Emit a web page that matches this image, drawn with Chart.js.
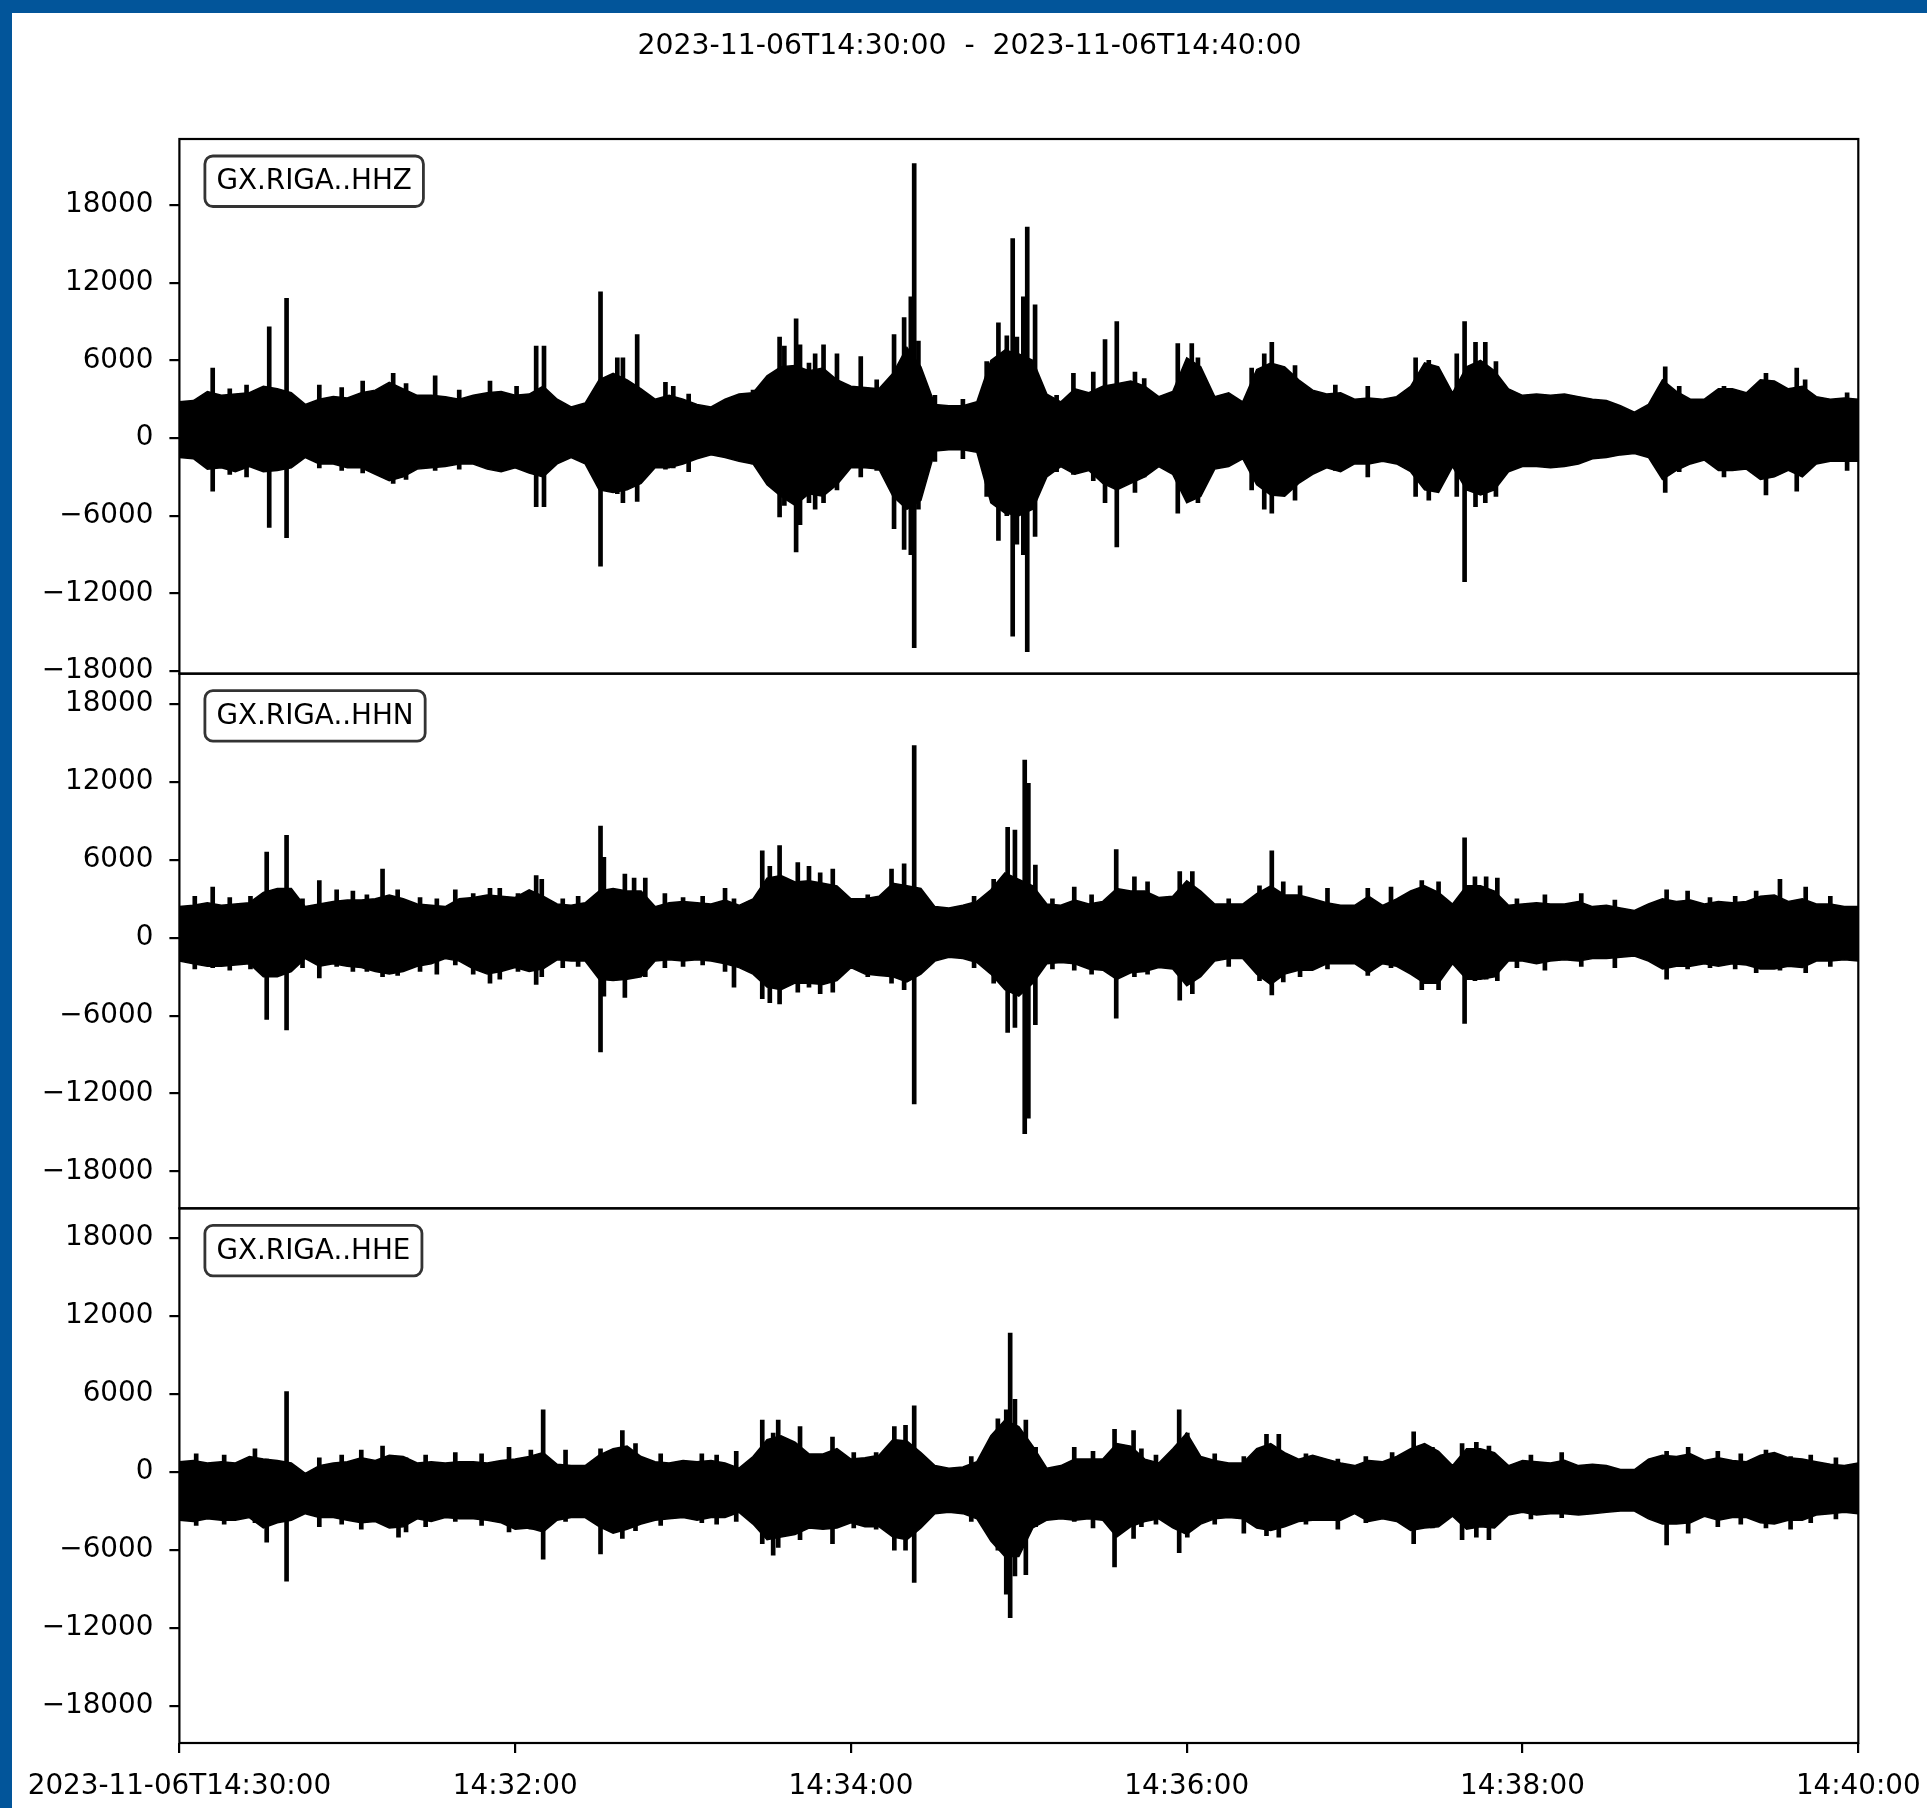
<!DOCTYPE html>
<html>
<head>
<meta charset="utf-8">
<title>GX.RIGA seismogram</title>
<script src="https://cdn.jsdelivr.net/npm/chart.js@4.4.1/dist/chart.umd.min.js"></script>
<style>
  html, body { margin: 0; padding: 0; background: #02559a; overflow: hidden; }
  #frame { position: absolute; left: 12px; top: 13px; width: 1915px; height: 1795px; background: #fff; }
  canvas { display: block; }
</style>
</head>
<body>
<div id="frame"><canvas id="seis" width="1915" height="1795"></canvas></div>
<script>
// Window 2023-11-06T14:30:00 - 14:40:00, x in seconds from start, y in counts
const plotTitle = '2023-11-06T14:30:00  -  2023-11-06T14:40:00';
const channels = ['GX.RIGA..HHZ', 'GX.RIGA..HHN', 'GX.RIGA..HHE'];
const tickSeconds = [0, 120, 240, 360, 480, 600];
const tickLabels = ['2023-11-06T14:30:00', '14:32:00', '14:34:00', '14:36:00', '14:38:00', '14:40:00'];
const yTicks = [-18000, -12000, -6000, 0, 6000, 12000, 18000];
const yLimits = [[-18200, 23100], [-20850, 20350], [-20850, 20300]];
const envStep = 5; // seconds between envelope samples

// HHZ: band envelope every 5 s
const hhzTop = [
  2800, 2900, 3600, 3300, 3400, 3500, 4000, 3800, 3500, 2600, 3000, 3200,
  3100, 3500, 3700, 4300, 3800, 3300, 3300, 3200, 3000, 3300, 3500, 3600,
  3300, 3400, 4000, 3000, 2400, 2700, 4500, 5000, 4500, 3800, 3000, 3300,
  3000, 2600, 2400, 3000, 3400, 3500, 4800, 5500, 5600, 5200, 5400, 4500,
  4000, 3900, 3800, 5000, 7000, 5500, 2600, 2500, 2500, 2800, 6000, 6800,
  6500, 6000, 3400, 2800, 3800, 3500, 4000, 4200, 4400, 4000, 3200, 3600,
  6200, 5500, 3200, 3500, 2800, 5300, 5800, 5500, 4500, 3700, 3400, 3500,
  3000, 3100, 3000, 3200, 4000, 5800, 5500, 3500, 5500, 6000, 5200, 3800,
  3300, 3400, 3300, 3400, 3200, 3000, 2900, 2500, 2000, 2600, 4500, 3600,
  3000, 3000, 3800, 3800, 3500, 4500, 4400, 3800, 4000, 3200, 3000, 3100,
  3000
];
const hhzBottom = [
  -1500, -1600, -2400, -2300, -2600, -2200, -2600, -2500, -2300, -1500, -2000, -2000,
  -2300, -2300, -2800, -3300, -3000, -2400, -2300, -2200, -2000, -2000, -2400, -2600,
  -2300, -2700, -3000, -2000, -1500, -2000, -4000, -4200, -4000, -3500, -2300, -2300,
  -2000, -1600, -1300, -1500, -1800, -2000, -3600, -4500, -5200, -4300, -4500, -3600,
  -2300, -2300, -2400, -4500, -5500, -4800, -1000, -900, -900, -1100, -5000, -5800,
  -6000, -5500, -3000, -2200, -2800, -2500, -3500, -4000, -3500, -3000, -2200, -2800,
  -5000, -4500, -2400, -2200, -1600, -3600, -4400, -4500, -3500, -2800, -2300, -2600,
  -2000, -2000, -1800, -2000, -2600, -4000, -4200, -2200, -4000, -4400, -4000, -2600,
  -2200, -2200, -2300, -2200, -2000, -1600, -1500, -1300, -1200, -1500, -3200, -2500,
  -2000, -1700, -2500, -2500, -2400, -3200, -3000, -2500, -3000, -2000, -1800, -1800,
  -1800
];
// HHZ: isolated peaks (time s, max, min)
const hhzSpikeT = [
  11.9, 18, 24, 32.1, 38.3, 50, 58, 65.5, 76.4, 81, 91.4, 100, 111, 120.5, 127.5, 130.3,
  150.5, 156.5, 158.5, 163.6, 173.7, 176.5, 182, 205, 214.5, 216.2, 220.4, 221.8, 225, 227.2,
  230.2, 235, 243.5, 249.2, 255.4, 259, 261.4, 262.6, 264.1, 270, 280, 288.5, 292.7, 295.7,
  297.8, 299.3, 301.6, 303, 305.8, 313.5, 319.5, 326.6, 330.8, 335, 341.5, 344.8, 356.8,
  361.8, 364, 383.2, 387.7, 390.4, 398.7, 413.1, 424.7, 441.8, 446.5, 456.5, 459.3, 463.2,
  466.7, 470.5, 531, 536, 552, 567, 578, 581, 596
];
const hhzSpikeHi = [
  5400, 3800, 4100, 8600, 10800, 4100, 3900, 4400, 5000, 4200, 4800, 3700, 4400, 4000, 7100, 7100,
  11300, 6200, 6200, 8000, 4300, 4000, 3400, 3700, 7800, 7100, 9200, 7200, 5800, 6500,
  7200, 6500, 6300, 4500, 8000, 9300, 10900, 21200, 7500, 3300, 3000, 5900, 8900, 7900,
  15400, 7800, 10900, 16300, 10300, 3300, 5000, 5100, 7600, 9000, 5100, 4600, 7300,
  7300, 6200, 5400, 6500, 7400, 5600, 4100, 4000, 6200, 6000, 6500, 9000, 7400,
  7400, 5900, 5500, 4000, 4000, 5000, 5400, 4500, 3500
];
const hhzSpikeLo = [
  -4100, -2800, -3000, -6900, -7700, -2300, -2500, -2700, -3500, -3200, -2500, -2400, -2000, -2300, -5300, -5300,
  -9900, -4300, -5000, -4900, -2400, -2300, -2600, -2000, -6100, -5200, -8800, -6700, -5000, -5500,
  -5000, -4000, -3000, -2500, -7000, -8600, -9000, -16200, -5500, -1800, -1600, -4500, -7900, -6000,
  -15300, -8200, -9000, -16500, -7600, -2600, -2800, -3300, -5000, -8400, -4200, -3000, -5800,
  -4500, -5000, -4000, -5500, -5800, -4800, -2500, -3000, -4500, -4800, -4500, -11100, -5300,
  -5000, -4500, -4200, -2600, -3000, -4400, -4100, -2500, -2500
];

// HHN
const hhnTop = [
  2400, 2500, 2700, 2500, 2600, 2700, 3500, 3800, 3800, 2400, 2600, 2800,
  2900, 2900, 3000, 3300, 3000, 2600, 2500, 2400, 3000, 3100, 3300, 3200,
  3100, 3700, 3200, 2600, 2500, 2700, 3600, 3800, 3600, 3600, 2400, 2700,
  2800, 2700, 2600, 2900, 2500, 3000, 4600, 4800, 4300, 4400, 4200, 4000,
  3000, 3000, 3200, 4200, 4000, 3800, 2400, 2300, 2500, 2800, 3700, 5000,
  4500, 4000, 2600, 2500, 2900, 2600, 2800, 3800, 3600, 3600, 3100, 3200,
  4400, 3600, 2600, 2600, 2600, 3400, 4000, 3300, 3300, 3000, 2700, 2500,
  2500, 3200, 2500, 3000, 3600, 4000, 3500, 2600, 4000, 4000, 3600, 2500,
  2600, 2700, 2600, 2600, 2800, 2400, 2500, 2300, 2100, 2600, 3000, 2800,
  2900, 2600, 2800, 2700, 2800, 3200, 3300, 2800, 3000, 2600, 2600, 2400,
  2400
];
const hhnBottom = [
  -1800, -2000, -2200, -2200, -2100, -2000, -3000, -3000, -2600, -1600, -2200, -2000,
  -2200, -2300, -2600, -2800, -2600, -2200, -2000, -1600, -1800, -2400, -2800, -2600,
  -2300, -2600, -2400, -1700, -1800, -1800, -3200, -3300, -3200, -3000, -1800, -1700,
  -1800, -1700, -1800, -2000, -2300, -2800, -3800, -4000, -3500, -3500, -3600, -3300,
  -2300, -2800, -2900, -3000, -3400, -2800, -1800, -1500, -1600, -1900, -2800, -4000,
  -4500, -3500, -2000, -1900, -2000, -2400, -2500, -3200, -2700, -2600, -2300, -2400,
  -3700, -3000, -1800, -1600, -1600, -2800, -3600, -2800, -2500, -2500, -2000, -2000,
  -2000, -2700, -2000, -2200, -2800, -3500, -3500, -2000, -3200, -3200, -3000, -1800,
  -1800, -2000, -1800, -1700, -1800, -1600, -1600, -1500, -1400, -1800, -2400, -2200,
  -2200, -2000, -2200, -2000, -2100, -2400, -2400, -2200, -2300, -1800, -1800, -1700,
  -1800
];
const hhnSpikeT = [
  5.5, 11.9, 18, 25.4, 31.2, 38.3, 44, 50, 56.2, 62, 67, 72.6, 78, 86, 92, 98.6, 105,
  111, 114.5, 121, 127.5, 129.5, 137, 142.5, 150.5, 151.7, 159.2, 162.5, 166.5, 173.5,
  180, 187, 195, 198.2, 208.3, 211, 214.5, 221, 225, 229, 233.5, 246, 254.5, 259, 262.6,
  284, 291, 296, 298.6, 302.1, 303.4, 305.9, 312, 319.8, 326, 334.8, 341.3, 346, 357.5,
  362, 375, 386, 390.4, 394.5, 400.5, 410.3, 424.7, 433, 444, 450, 459.3, 463, 467, 471,
  478, 488, 501, 513, 531.5, 539, 547, 556, 563.5, 572, 581.2, 590
];
const hhnSpikeHi = [
  3200, 3900, 3100, 3200, 6600, 7900, 3000, 4400, 3700, 3600, 3300, 5300, 3700, 3100, 3000, 3700, 3400,
  3800, 3800, 3400, 4800, 4500, 3000, 3200, 8600, 6200, 4900, 4600, 4600, 3400,
  3100, 3200, 3800, 3000, 6700, 5500, 7100, 5800, 5500, 5000, 5300, 3300, 5300, 5700, 14800,
  3200, 4500, 8500, 8300, 13700, 11900, 5600, 3000, 3900, 3300, 6800, 4700, 4300, 5100,
  5100, 3000, 4000, 6700, 4300, 4000, 3800, 3800, 3900, 4400, 4300, 7700, 4700, 4700, 4600,
  3000, 3300, 3400, 2900, 3700, 3600, 3100, 3200, 3600, 4500, 3900, 3200
];
const hhnSpikeLo = [
  -2400, -2300, -2500, -2400, -6300, -7100, -2300, -3100, -2200, -2600, -2600, -3000, -2900, -2600, -2800, -2100, -2800,
  -3500, -3200, -2600, -3600, -3000, -2300, -2200, -8800, -4500, -4600, -3000, -3000, -2300,
  -2200, -2100, -2600, -3800, -4700, -5000, -5100, -4200, -3800, -4300, -4200, -3000, -3500, -4000, -12800,
  -2300, -3500, -7300, -6900, -15100, -13900, -6700, -2400, -2500, -2800, -6200, -3000, -2800, -4800,
  -4300, -2200, -3300, -4400, -3400, -3000, -2400, -2900, -2300, -4000, -4000, -6600, -3300, -3200, -3300,
  -2300, -2500, -2200, -2300, -3200, -2400, -2300, -2400, -2700, -2500, -2700, -2200
];

// HHE
const hheTop = [
  800, 900, 700, 800, 700, 1200, 1000, 900, 700, -100, 500, 700,
  800, 1100, 900, 1300, 1200, 700, 800, 700, 800, 800, 700, 900,
  1000, 1200, 1500, 600, 500, 500, 1300, 1800, 2000, 1200, 800, 700,
  900, 800, 900, 700, 300, 1200, 2500, 2800, 2300, 1400, 1400, 1800,
  1000, 1100, 1300, 2500, 2400, 1500, 500, 300, 400, 800, 2800, 4000,
  3500, 2000, 300, 500, 1000, 1000, 1000, 2200, 2000, 1000, 700, 1800,
  3000, 1200, 900, 700, 700, 1800, 2200, 1500, 1000, 1300, 1000, 700,
  500, 900, 800, 1200, 1800, 2200, 1600, 500, 1800, 1800, 1500, 500,
  900, 800, 700, 900, 500, 600, 500, 200, 200, 1000, 1300, 1200,
  1400, 900, 1100, 900, 800, 1300, 1500, 1100, 1000, 800, 600, 500,
  700
];
const hheBottom = [
  -3700, -3800, -3600, -3700, -3700, -3500, -4300, -3900, -3700, -3200, -3500, -3500,
  -3700, -3900, -3800, -4300, -4200, -3600, -3800, -3500, -3600, -3600, -3700, -3900,
  -4400, -4300, -4600, -3700, -3500, -3500, -4200, -4700, -4400, -4000, -3700, -3600,
  -3500, -3700, -3500, -3500, -3100, -4000, -5200, -5000, -4800, -4300, -4400, -4300,
  -3900, -4200, -4200, -5000, -5200, -4300, -3200, -3100, -3200, -3600, -5300, -6500,
  -6500, -4300, -3700, -3600, -3700, -3600, -3700, -5000, -4200, -3800, -3600, -4300,
  -4800, -4000, -3600, -3500, -3600, -4300, -4500, -4200, -3800, -3700, -3700, -3700,
  -3200, -3800, -3600, -3800, -4500, -4300, -4200, -3400, -4400, -4200, -4300, -3300,
  -3100, -3300, -3200, -3200, -3300, -3200, -3100, -3000, -3000, -3600, -4000, -4000,
  -3900, -3400, -3700, -3500, -3500, -3900, -4000, -3700, -3700, -3300, -3200, -3100,
  -3200
];
const hheSpikeT = [
  6, 16, 27, 31.2, 38.3, 50, 58, 65, 72.6, 78.3, 81, 88, 98.6, 108, 117.8, 125.6, 130,
  138, 150.5, 158.3, 163, 172, 186.7, 192, 199, 208.3, 212.2, 214, 221.8, 233.4, 241,
  249, 255.5, 259.5, 262.6, 283, 292.5, 295.5, 296.9, 298.6, 302.5, 306, 319.8, 326.5, 334.2,
  341, 343.8, 349, 357.3, 360.2, 370, 380.4, 388.5, 392.9, 402.6, 414, 424, 433.4,
  441.1, 447.8, 458.4, 463.5, 468, 483, 494, 531.5, 539.2, 549.8, 558, 567, 575.8, 583, 592
];
const hheSpikeHi = [
  1400, 1300, 1800, 1000, 6200, 1100, 1300, 1700, 2000, 1200, 1100, 1300, 1500, 1400, 1900, 1700, 4800,
  1700, 1800, 3200, 2200, 1400, 1400, 1300, 1600, 4000, 3000, 4000, 3500, 2700, 1500,
  1500, 3500, 3600, 5100, 1200, 4100, 4800, 10700, 5600, 4000, 1900, 1900, 1600, 3300,
  3200, 1800, 1300, 4800, 3000, 1400, 1200, 2900, 2900, 1400, 1000, 1200, 1500,
  3100, 1900, 2200, 2300, 2000, 1300, 1500, 1600, 1900, 1600, 1400, 1700, 1200, 1300, 1100
];
const hheSpikeLo = [
  -4100, -4000, -3900, -5400, -8400, -4200, -4000, -4400, -3800, -5000, -4600, -4200, -3800, -4100, -4600, -4400, -6700,
  -3800, -6300, -5100, -4500, -4100, -3900, -4000, -3800, -5500, -6400, -5800, -5200, -5500, -4300,
  -4400, -6000, -6000, -8500, -3800, -6000, -9400, -11200, -8000, -7900, -4200, -3800, -4300, -7300,
  -5100, -4200, -4000, -6200, -5000, -4000, -4700, -4900, -5000, -4000, -4400, -3900, -3500,
  -5500, -4300, -5200, -5000, -5200, -3600, -3500, -5600, -4700, -4200, -4000, -4300, -4400, -3900, -3600
];

const FONT = '"DejaVu Sans", "Liberation Sans", sans-serif';
const traces = [
  { top: hhzTop, bottom: hhzBottom, st: hhzSpikeT, hi: hhzSpikeHi, lo: hhzSpikeLo },
  { top: hhnTop, bottom: hhnBottom, st: hhnSpikeT, hi: hhnSpikeHi, lo: hhnSpikeLo },
  { top: hheTop, bottom: hheBottom, st: hheSpikeT, hi: hheSpikeHi, lo: hheSpikeLo }
];
const axisIds = ['y1', 'y2', 'y3'];

const toPoints = values => values.map((v, i) => ({ x: i * envStep, y: v }));

const datasets = [];
traces.forEach((tr, i) => {
  const yAxisID = axisIds[i];
  datasets.push({
    type: 'line', data: toPoints(tr.top), yAxisID, fill: '+1',
    borderColor: '#000', backgroundColor: '#000', borderWidth: 1.5, pointRadius: 0, tension: 0
  });
  datasets.push({
    type: 'line', data: toPoints(tr.bottom), yAxisID, fill: false,
    borderColor: '#000', backgroundColor: '#000', borderWidth: 1.5, pointRadius: 0, tension: 0
  });
  datasets.push({
    type: 'bar', yAxisID, grouped: false, barThickness: 4,
    backgroundColor: '#000', borderWidth: 0,
    data: tr.st.map((t, k) => ({ x: t, y: [tr.lo[k], tr.hi[k]] }))
  });
});

function yAxis(i) {
  return {
    type: 'linear', position: 'left', stack: 'traces', stackWeight: 1,
    min: yLimits[i][0], max: yLimits[i][1],
    afterBuildTicks: axis => { axis.ticks = yTicks.map(v => ({ value: v })); },
    afterFit: axis => { axis.width = 167.4; },
    grid: { drawOnChartArea: false, color: '#000', lineWidth: 2.2, tickLength: 10 },
    border: { display: false },
    ticks: {
      autoSkip: false, padding: 16, color: '#000',
      font: { family: FONT, size: 27.8 },
      callback: v => (v < 0 ? '\u2212' + Math.abs(v) : String(v))
    }
  };
}

// frames, channel boxes and the window title
const seisDecor = {
  id: 'seisDecor',
  afterDatasetsDraw(chart) {
    const ctx = chart.ctx;
    const area = chart.chartArea;
    ctx.save();
    axisIds.forEach((id, i) => {
      const s = chart.scales[id];
      ctx.lineWidth = 2.2;
      ctx.strokeStyle = '#000';
      ctx.strokeRect(area.left, s.top, area.right - area.left, s.bottom - s.top);

      ctx.font = '27.8px ' + FONT;
      const tw = ctx.measureText(channels[i]).width;
      const bx = area.left + 25.5, by = s.top + 17, bw = tw + 23, bh = 50.5;
      ctx.beginPath();
      ctx.roundRect(bx, by, bw, bh, 8);
      ctx.fillStyle = 'rgba(255,255,255,0.8)';
      ctx.fill();
      ctx.lineWidth = 2.8;
      ctx.strokeStyle = 'rgba(0,0,0,0.8)';
      ctx.stroke();
      ctx.fillStyle = '#000';
      ctx.textAlign = 'left';
      ctx.textBaseline = 'middle';
      ctx.fillText(channels[i], bx + 11.5, by + bh / 2 + 1);
    });
    ctx.font = '28.3px ' + FONT;
    ctx.fillStyle = '#000';
    ctx.textAlign = 'center';
    ctx.textBaseline = 'alphabetic';
    ctx.fillText(plotTitle, chart.width / 2, 40.5);
    ctx.restore();
  }
};

new Chart(document.getElementById('seis'), {
  type: 'line',
  data: { datasets },
  options: {
    responsive: false,
    animation: false,
    events: [],
    layout: { padding: { top: 126, right: 68.7, left: 0, bottom: 0 } },
    plugins: { legend: { display: false }, tooltip: { enabled: false }, title: { display: false } },
    scales: {
      x: {
        type: 'linear', min: 0, max: 600, offset: false,
        afterBuildTicks: axis => { axis.ticks = tickSeconds.map(v => ({ value: v })); },
        afterFit: axis => {
          axis.height = 65;
          // end labels fit inside the margins, keep the plot edges fixed
          axis.paddingLeft = 0;
          axis.paddingRight = 0;
        },
        grid: { drawOnChartArea: false, offset: false, color: '#000', lineWidth: 2.2, tickLength: 10 },
        border: { display: false },
        ticks: {
          autoSkip: false, maxRotation: 0, padding: 17, color: '#000',
          font: { family: FONT, size: 27.8 },
          callback: v => tickLabels[tickSeconds.indexOf(v)]
        }
      },
      y3: yAxis(2),
      y2: yAxis(1),
      y1: yAxis(0)
    }
  },
  plugins: [seisDecor]
});
</script>
</body>
</html>
